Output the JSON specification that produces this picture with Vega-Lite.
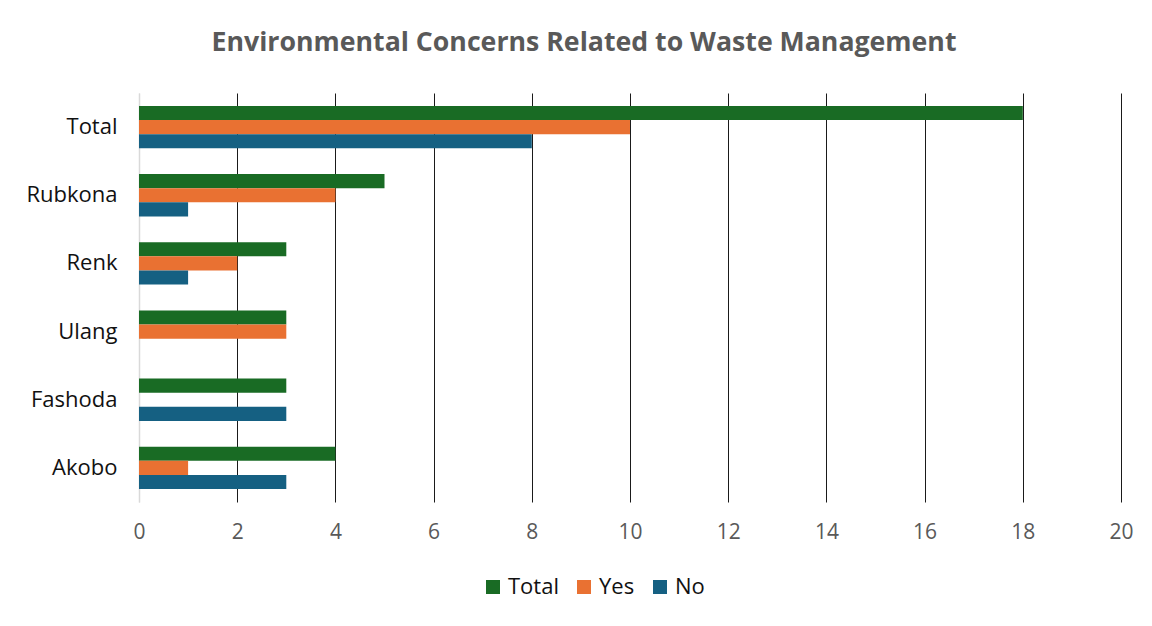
{
  "$schema": "https://vega.github.io/schema/vega-lite/v6.json",
  "width": 982,
  "height": 409,
  "autosize": {"type": "none"},
  "padding": {"left": 139, "top": 93, "right": 31, "bottom": 124},
  "background": "white",
  "title": {
    "text": "Environmental Concerns Related to Waste Management",
    "font": "Open Sans",
    "fontSize": 26.7,
    "fontWeight": "bold",
    "color": "#595959",
    "anchor": "middle",
    "dx": -46,
    "offset": 36
  },
  "data": {
    "values": [
      {"area": "Total", "series": "Total", "value": 18},
      {"area": "Total", "series": "Yes", "value": 10},
      {"area": "Total", "series": "No", "value": 8},
      {"area": "Rubkona", "series": "Total", "value": 5},
      {"area": "Rubkona", "series": "Yes", "value": 4},
      {"area": "Rubkona", "series": "No", "value": 1},
      {"area": "Renk", "series": "Total", "value": 3},
      {"area": "Renk", "series": "Yes", "value": 2},
      {"area": "Renk", "series": "No", "value": 1},
      {"area": "Ulang", "series": "Total", "value": 3},
      {"area": "Ulang", "series": "Yes", "value": 3},
      {"area": "Ulang", "series": "No", "value": 0},
      {"area": "Fashoda", "series": "Total", "value": 3},
      {"area": "Fashoda", "series": "Yes", "value": 0},
      {"area": "Fashoda", "series": "No", "value": 3},
      {"area": "Akobo", "series": "Total", "value": 4},
      {"area": "Akobo", "series": "Yes", "value": 1},
      {"area": "Akobo", "series": "No", "value": 3}
    ]
  },
  "mark": {"type": "bar"},
  "encoding": {
    "y": {
      "field": "area",
      "type": "nominal",
      "sort": ["Total", "Rubkona", "Renk", "Ulang", "Fashoda", "Akobo"],
      "scale": {"paddingInner": 0.38, "paddingOuter": 0.19},
      "axis": {
        "title": null,
        "ticks": false,
        "domain": true,
        "domainColor": "#d9d9d9",
        "domainWidth": 1.5,
        "labelFont": "Open Sans",
        "labelFontSize": 22,
        "labelColor": "#111111",
        "labelPadding": 22
      }
    },
    "yOffset": {
      "field": "series",
      "type": "nominal",
      "sort": ["Total", "Yes", "No"],
      "scale": {"paddingInner": 0, "paddingOuter": 0}
    },
    "x": {
      "field": "value",
      "type": "quantitative",
      "scale": {"domain": [0, 20], "nice": false},
      "axis": {
        "title": null,
        "values": [0, 2, 4, 6, 8, 10, 12, 14, 16, 18, 20],
        "ticks": false,
        "domain": false,
        "grid": true,
        "gridColor": {"condition": {"test": "datum.value === 0", "value": "#d9d9d9"}, "value": "#1a1a1a"},
        "gridWidth": 1,
        "labelFont": "Open Sans",
        "labelFontSize": 21,
        "labelFlush": false,
        "labelColor": "#595959",
        "labelPadding": 19
      }
    },
    "color": {
      "field": "series",
      "type": "nominal",
      "sort": ["Total", "Yes", "No"],
      "scale": {"domain": ["Total", "Yes", "No"], "range": ["#196B24", "#E97132", "#156082"]},
      "legend": {
        "title": null,
        "orient": "none",
        "direction": "horizontal",
        "legendX": 343,
        "legendY": 483,
        "symbolType": "square",
        "symbolSize": 196,
        "symbolStrokeWidth": 0,
        "labelFont": "Open Sans",
        "labelFontSize": 22,
        "labelColor": "#111111",
        "columnPadding": 14,
        "labelOffset": 4
      }
    }
  },
  "config": {"view": {"stroke": null}}
}
